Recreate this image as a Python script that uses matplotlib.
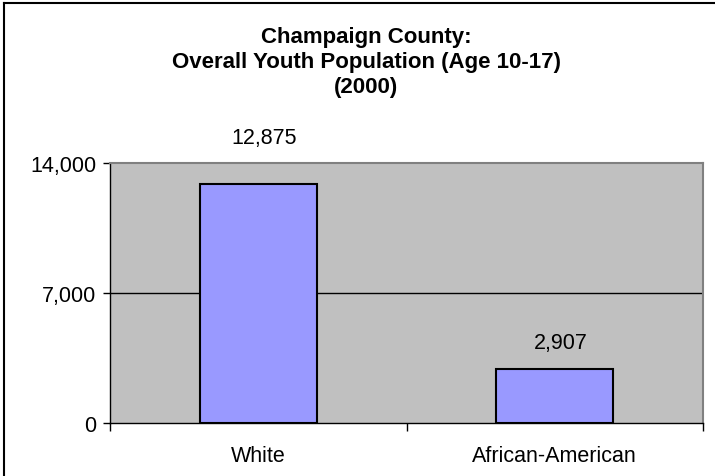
import matplotlib
matplotlib.use("Agg")
import matplotlib.pyplot as plt
from matplotlib.lines import Line2D
from matplotlib.ticker import FuncFormatter

categories = ["White", "African-American"]
values = [12875, 2907]
y_ticks = [0, 7000, 14000]
title_lines = ["Champaign County:", "Overall Youth Population (Age 10-17)", "(2000)"]
label_offsets_px = [41, 21]

plt.rcParams['font.family'] = ['Liberation Sans', 'DejaVu Sans']

W, H = 715, 477
fig = plt.figure(figsize=(W / 100, H / 100), dpi=100)
fig.patch.set_facecolor('white')

ax = fig.add_axes([110 / W, 1 - 424 / H, (703 - 110) / W, (424 - 164) / H])
ax.set_facecolor('#C0C0C0')

x = list(range(len(categories)))
ax.bar(x, values, width=0.395, color='#9999FF', edgecolor='black', linewidth=1.5, zorder=3)

ax.set_xlim(-0.5, len(categories) - 0.5)
ax.set_ylim(0, 14000)
ax.set_yticks(y_ticks)
ax.yaxis.set_major_formatter(FuncFormatter(lambda v, p: f"{int(v):,}"))
for t in y_ticks[1:-1]:
    ax.axhline(t, color='black', linewidth=1, zorder=1)

# category labels at centers, ticks at boundaries
ax.set_xticks([i - 0.5 for i in range(len(categories) + 1)])
ax.set_xticklabels([])
ax.set_xticks(x, minor=True)
ax.set_xticklabels(categories, minor=True)
ax.tick_params(axis='x', which='major', direction='out', length=6, width=1, color='black')
ax.tick_params(axis='x', which='minor', length=0, pad=16, labelsize=15.5)
ax.tick_params(axis='y', direction='out', length=5, width=1, color='black', pad=5, labelsize=15.5)

for s in ['top', 'right']:
    ax.spines[s].set_color('#808080')
    ax.spines[s].set_linewidth(1.5)
for s in ['left', 'bottom']:
    ax.spines[s].set_color('black')
    ax.spines[s].set_linewidth(1)

for xi, v, off in zip(x, values, label_offsets_px):
    ax.annotate(f"{v:,}", xy=(xi, v), xytext=(6 * 0.72, off * 0.72),
                textcoords='offset points', ha='center', va='baseline',
                fontsize=15.5, zorder=4)

title_baselines = [43, 68, 93]
for line, yp in zip(title_lines, title_baselines):
    fig.text(366 / W, 1 - yp / H, line, ha='center', va='baseline',
             fontsize=16, fontweight='bold')

# chart border (cropped at right and bottom)
fig.add_artist(Line2D([4 / W, 4 / W], [0, 1 - 4 / H], color='black', linewidth=1.5,
                      transform=fig.transFigure))
fig.add_artist(Line2D([4 / W, 1], [1 - 4 / H, 1 - 4 / H], color='black', linewidth=1.5,
                      transform=fig.transFigure))

fig.savefig('out.png', dpi=100)
